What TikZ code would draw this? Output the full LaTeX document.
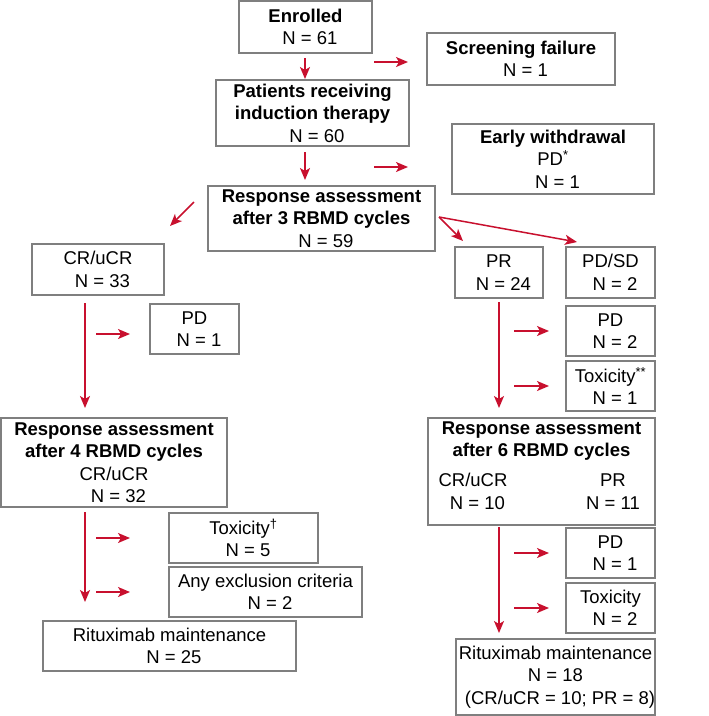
\documentclass[tikz,border=0pt]{standalone}
\usepackage{fontspec}
\setmainfont{Liberation Sans}
\usetikzlibrary{arrows.meta,calc}
\definecolor{arrowred}{HTML}{C8102E}
\definecolor{boxgray}{HTML}{7F7F7F}
\newcommand{\ldsp}{\hspace*{9pt}}
\begin{document}
\begin{tikzpicture}[x=1pt,y=-1pt,
  box/.style={draw=boxgray,line width=1.3pt,inner sep=0pt,align=center,
    font=\fontsize{18.5}{22.5}\selectfont,text=black},
  txt/.style={inner sep=0pt,align=center,font=\fontsize{18.5}{22.5}\selectfont,text=black},
  arr/.style={draw=arrowred,line width=1.5pt,-{Stealth[length=12pt,width=10pt,inset=3pt]}}]
\useasboundingbox (0,0) rectangle (709,716);

% boxes
\node[box,minimum width=133pt,minimum height=52pt] (enr) at (305.5,27) {\textbf{Enrolled}\\\ldsp N = 61};
\node[box,minimum width=188pt,minimum height=52pt] (scr) at (521,59) {\textbf{Screening failure}\\\ldsp N = 1};
\node[box,minimum width=193pt,minimum height=66pt] (pat) at (312.5,113) {\textbf{Patients receiving}\\\textbf{induction therapy}\\\ldsp N = 60};
\node[box,minimum width=202pt,minimum height=70pt] (ew) at (553,159) {\textbf{Early withdrawal}\\PD\textsuperscript{*}\\\ldsp N = 1};
\node[box,minimum width=227pt,minimum height=65pt] (r3) at (321.5,218.5) {\textbf{Response assessment}\\\textbf{after 3 RBMD cycles}\\\ldsp N = 59};
\node[box,minimum width=132pt,minimum height=51pt] (cr) at (98,269.5) {CR/uCR\\\ldsp N = 33};
\node[box,minimum width=89pt,minimum height=50pt] (pda) at (194.5,329) {PD\\\ldsp N = 1};
\node[box,minimum width=88pt,minimum height=51pt] (pr) at (499,272.5) {PR\\\ldsp N = 24};
\node[box,minimum width=89pt,minimum height=51pt] (pdsd) at (610.5,272.5) {PD/SD\\\ldsp N = 2};
\node[box,minimum width=89pt,minimum height=50pt] (pdb) at (610.5,331) {PD\\\ldsp N = 2};
\node[box,minimum width=89pt,minimum height=50pt] (toxa) at (610.5,386) {Toxicity\textsuperscript{**}\\\ldsp N = 1};
\node[box,minimum width=227pt,minimum height=107pt] (r6) at (541.5,471.5) {};
\node[txt] (r6t) at (541.5,441) {\textbf{Response assessment}\\\textbf{after 6 RBMD cycles}};
\node[txt] (r6a) at (473,491.5) {CR/uCR\\\ldsp N = 10};
\node[txt] (r6b) at (613,491.5) {PR\\N = 11};
\node[box,minimum width=89pt,minimum height=50pt] (pdc) at (610.5,553) {PD\\\ldsp N = 1};
\node[box,minimum width=89pt,minimum height=50pt] (toxb) at (610.5,608) {Toxicity\\\ldsp N = 2};
\node[box,minimum width=199pt,minimum height=76pt] (ritb) at (555.5,677) {Rituximab maintenance\\N = 18\\\ldsp(CR/uCR = 10; PR = 8)};
\node[box,minimum width=226pt,minimum height=89pt] (r4) at (114,462.5) {\textbf{Response assessment}\\\textbf{after 4 RBMD cycles}\\CR/uCR\\\ldsp N = 32};
\node[box,minimum width=149pt,minimum height=50pt] (toxc) at (243.5,538) {Toxicity\textsuperscript{†}\\\ldsp N = 5};
\node[box,minimum width=193pt,minimum height=50pt] (exc) at (265.5,592) {Any exclusion criteria\\\ldsp N = 2};
\node[box,minimum width=253pt,minimum height=50pt] (rita) at (169.5,646) {Rituximab maintenance\\\ldsp N = 25};

% arrow end points
\coordinate (a1s) at (305,58);   \coordinate (a1e) at (305,79);
\coordinate (b1s) at (374,62);   \coordinate (b1e) at (408,62);
\coordinate (a2s) at (305,152);  \coordinate (a2e) at (305,180);
\coordinate (b2s) at (374,167);  \coordinate (b2e) at (408,167);
\coordinate (d1s) at (194,202);  \coordinate (d1e) at (170,226);
\coordinate (d2s) at (439,217);  \coordinate (d2e) at (463,241);
\coordinate (d3e) at (577,242);
\coordinate (a3s) at (85,303);   \coordinate (a3e) at (85,408);
\coordinate (b3s) at (96,334);   \coordinate (b3e) at (130,334);
\coordinate (a4s) at (499,302);  \coordinate (a4e) at (499,408);
\coordinate (b4s) at (514,331);  \coordinate (b4e) at (549,331);
\coordinate (b5s) at (514,386);  \coordinate (b5e) at (549,386);
\coordinate (a5s) at (85,512);   \coordinate (a5e) at (85,602);
\coordinate (b6s) at (96,538);   \coordinate (b6e) at (130,538);
\coordinate (b7s) at (96,592);   \coordinate (b7e) at (130,592);
\coordinate (a6s) at (499,527);  \coordinate (a6e) at (499,633);
\coordinate (b8s) at (514,553);  \coordinate (b8e) at (549,553);
\coordinate (b9s) at (514,608);  \coordinate (b9e) at (549,608);

\foreach \s/\e in {a1s/a1e,b1s/b1e,a2s/a2e,b2s/b2e,d1s/d1e,d2s/d2e,d2s/d3e,
  a3s/a3e,b3s/b3e,a4s/a4e,b4s/b4e,b5s/b5e,a5s/a5e,b6s/b6e,b7s/b7e,
  a6s/a6e,b8s/b8e,b9s/b9e}
  \draw[arr] (\s) -- (\e);
\end{tikzpicture}
\end{document}
